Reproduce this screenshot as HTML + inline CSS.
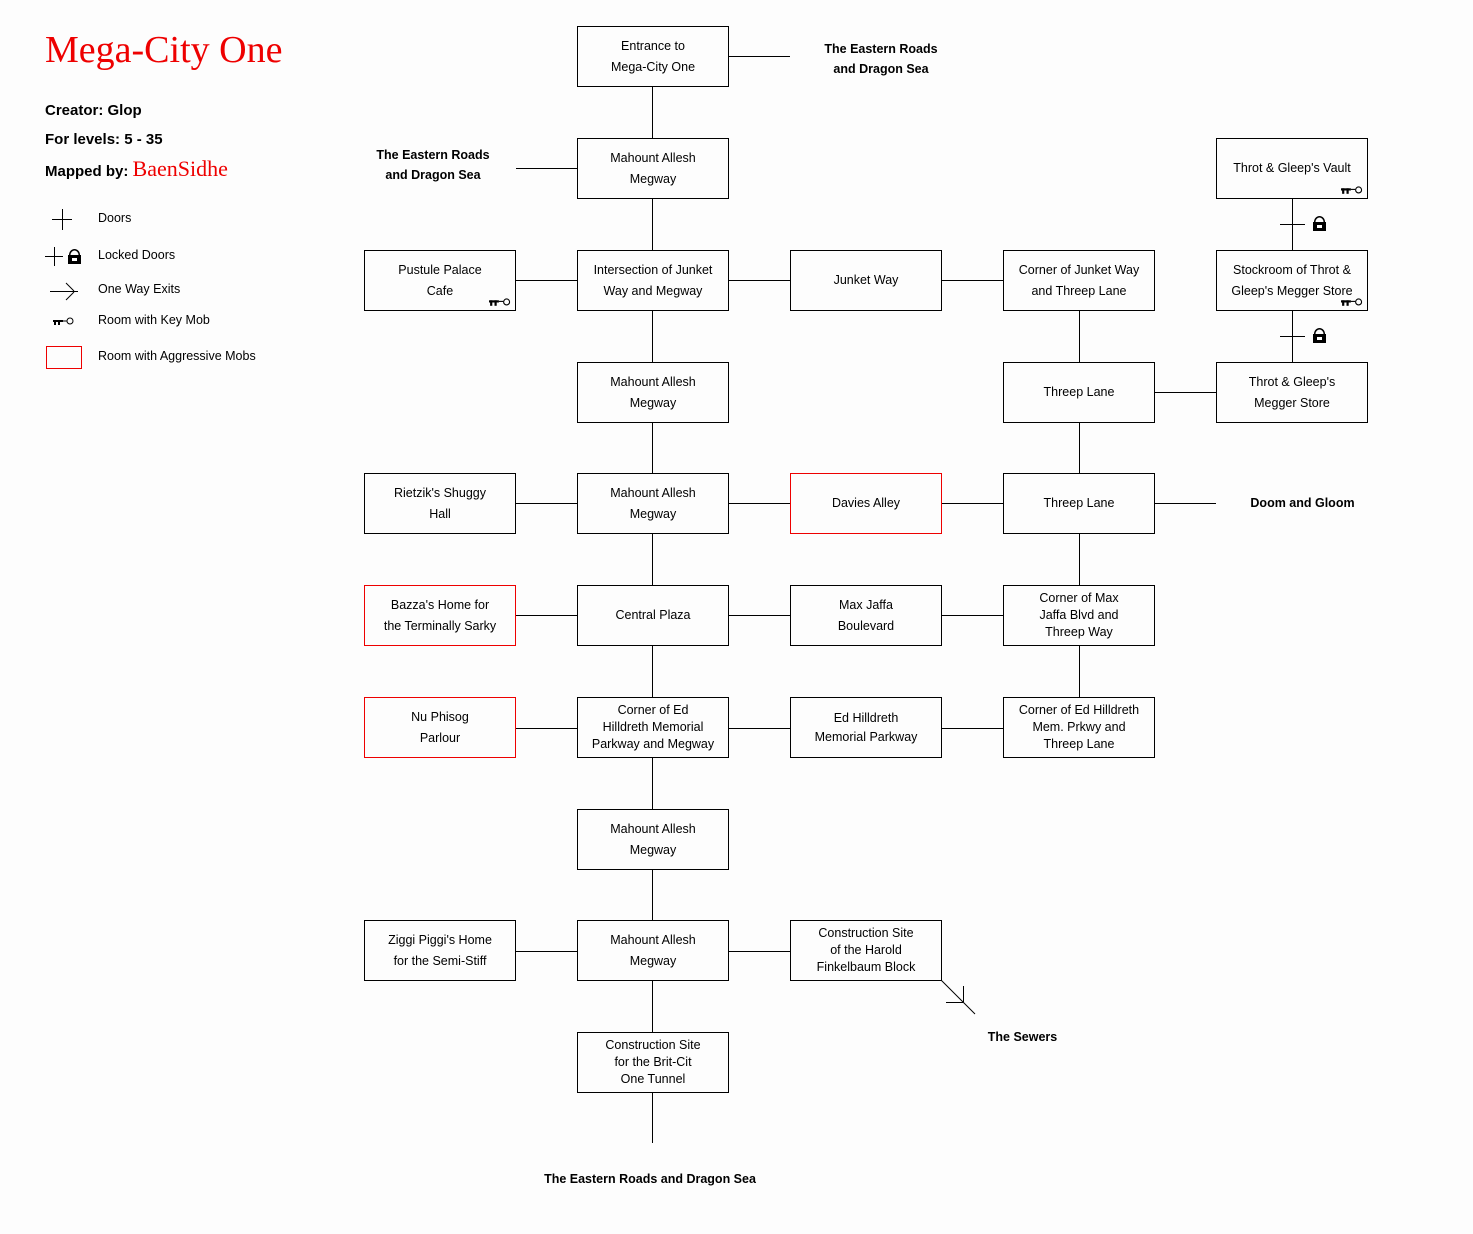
<!DOCTYPE html>
<html><head><meta charset="utf-8"><style>
body{margin:0;width:1473px;height:1234px;background:#fdfdfd;position:relative;overflow:hidden;font-family:"Liberation Sans",sans-serif;color:#000}
.b{position:absolute;width:150px;height:59px;border:1px solid #000;background:#fdfdfd;display:flex;align-items:center;justify-content:center;text-align:center;font-size:12.5px;line-height:21px;box-sizing:content-box}
.b3{line-height:17px}
.r{border-color:#e00}
.t{position:absolute;font-weight:bold;font-size:12.5px;line-height:20px;text-align:center}
.k{position:absolute;right:4px;bottom:3px;width:22px;height:9px}
.l{position:absolute;font-size:12.5px}
</style></head><body>
<svg width="1473" height="1234" style="position:absolute;left:0;top:0">
<g stroke="#000" stroke-width="1" fill="none">
<line x1="652.5" y1="86" x2="652.5" y2="1143"/>
<line x1="1079.5" y1="310" x2="1079.5" y2="697"/>
<line x1="1292.5" y1="198" x2="1292.5" y2="362"/>
<line x1="1280" y1="224.5" x2="1305" y2="224.5"/>
<line x1="1280" y1="336.5" x2="1305" y2="336.5"/>
<line x1="728" y1="56.5" x2="790" y2="56.5"/>
<line x1="516" y1="168.5" x2="577" y2="168.5"/>
<line x1="516" y1="280.5" x2="1003" y2="280.5"/>
<line x1="1154" y1="392.5" x2="1216" y2="392.5"/>
<line x1="516" y1="503.5" x2="1003" y2="503.5"/>
<line x1="1154" y1="503.5" x2="1216" y2="503.5"/>
<line x1="516" y1="615.5" x2="1003" y2="615.5"/>
<line x1="516" y1="728.5" x2="1003" y2="728.5"/>
<line x1="516" y1="951.5" x2="790" y2="951.5"/>
<line x1="941" y1="980" x2="975" y2="1014"/>
<line x1="946" y1="1002.5" x2="963" y2="1002.5"/>
<line x1="963.5" y1="986" x2="963.5" y2="1002"/>
<line x1="52" y1="219.5" x2="72" y2="219.5"/><line x1="62.5" y1="209" x2="62.5" y2="230"/>
<line x1="45" y1="256.5" x2="63" y2="256.5"/><line x1="54.5" y1="247" x2="54.5" y2="266"/>
<line x1="50" y1="291.5" x2="78" y2="291.5"/><line x1="66" y1="283" x2="74" y2="291"/><line x1="66" y1="300" x2="74" y2="292"/>
</g>
<rect x="46.5" y="346.5" width="35" height="22" fill="none" stroke="#e00"/>
<g fill="#000">
<path d="M1314 230v-8a5.5 6 0 0 1 11 0v8h-1.5v-8a4 4.5 0 0 0-8 0v8z"/><rect x="1313" y="222" width="13" height="9"/>
<path d="M1314 342v-8a5.5 6 0 0 1 11 0v8h-1.5v-8a4 4.5 0 0 0-8 0v8z"/><rect x="1313" y="334" width="13" height="9"/>
<path d="M69 263v-8a5.5 6 0 0 1 11 0v8h-1.5v-8a4 4.5 0 0 0-8 0v8z"/><rect x="68" y="255" width="13" height="9"/>
<rect x="53" y="320" width="10" height="2"/><rect x="54" y="320" width="2" height="5"/><rect x="58" y="320" width="2" height="5"/>
</g>
<line x1="63" y1="321" x2="67" y2="321" stroke="#000"/><circle cx="70" cy="321" r="3" fill="none" stroke="#000"/>
<g fill="#fff"><rect x="1317" y="225" width="5" height="3"/><rect x="1317" y="337" width="5" height="3"/><rect x="72" y="258" width="5" height="3"/></g>
</svg>
<div style="position:absolute;left:45px;top:28px;font-family:'Liberation Serif',serif;font-size:38px;color:#e00">Mega-City One</div>
<div style="position:absolute;left:45px;top:96px;font-weight:bold;font-size:15px;line-height:29px">Creator: Glop<br>For levels: 5 - 35<br>Mapped by: <span style="font-family:'Liberation Serif',serif;color:#e00;font-weight:normal;font-size:22px">BaenSidhe</span></div>
<div class="l" style="left:98px;top:211px">Doors</div>
<div class="l" style="left:98px;top:248px">Locked Doors</div>
<div class="l" style="left:98px;top:282px">One Way Exits</div>
<div class="l" style="left:98px;top:313px">Room with Key Mob</div>
<div class="l" style="left:98px;top:349px">Room with Aggressive Mobs</div>

<div class="t" style="left:810px;top:39px;width:142px">The Eastern Roads<br>and Dragon Sea</div>
<div class="t" style="left:362px;top:145px;width:142px">The Eastern Roads<br>and Dragon Sea</div>
<div class="t" style="left:1230px;top:493px;width:145px">Doom and Gloom</div>
<div class="t" style="left:975px;top:1027px;width:95px">The Sewers</div>
<div class="t" style="left:520px;top:1169px;width:260px">The Eastern Roads and Dragon Sea</div>

<div class="b" style="left:577px;top:26px">Entrance to<br>Mega-City One</div>
<div class="b" style="left:577px;top:138px">Mahount Allesh<br>Megway</div>
<div class="b" style="left:1216px;top:138px">Throt &amp; Gleep's Vault<svg class="k" viewBox="0 0 20 8"><rect x="0" y="2" width="9" height="2"/><rect x="1" y="2" width="2" height="5"/><rect x="5" y="2" width="2" height="5"/><line x1="9" y1="3" x2="13" y2="3" stroke="#000"/><circle cx="16" cy="3.5" r="2.7" fill="none" stroke="#000"/></svg></div>
<div class="b" style="left:364px;top:250px">Pustule Palace<br>Cafe<svg class="k" viewBox="0 0 20 8"><rect x="0" y="2" width="9" height="2"/><rect x="1" y="2" width="2" height="5"/><rect x="5" y="2" width="2" height="5"/><line x1="9" y1="3" x2="13" y2="3" stroke="#000"/><circle cx="16" cy="3.5" r="2.7" fill="none" stroke="#000"/></svg></div>
<div class="b" style="left:577px;top:250px">Intersection of Junket<br>Way and Megway</div>
<div class="b" style="left:790px;top:250px">Junket Way</div>
<div class="b" style="left:1003px;top:250px">Corner of Junket Way<br>and Threep Lane</div>
<div class="b" style="left:1216px;top:250px">Stockroom of Throt &amp;<br>Gleep's Megger Store<svg class="k" viewBox="0 0 20 8"><rect x="0" y="2" width="9" height="2"/><rect x="1" y="2" width="2" height="5"/><rect x="5" y="2" width="2" height="5"/><line x1="9" y1="3" x2="13" y2="3" stroke="#000"/><circle cx="16" cy="3.5" r="2.7" fill="none" stroke="#000"/></svg></div>
<div class="b" style="left:577px;top:362px">Mahount Allesh<br>Megway</div>
<div class="b" style="left:1003px;top:362px">Threep Lane</div>
<div class="b" style="left:1216px;top:362px">Throt &amp; Gleep's<br>Megger Store</div>
<div class="b" style="left:364px;top:473px">Rietzik's Shuggy<br>Hall</div>
<div class="b" style="left:577px;top:473px">Mahount Allesh<br>Megway</div>
<div class="b r" style="left:790px;top:473px">Davies Alley</div>
<div class="b" style="left:1003px;top:473px">Threep Lane</div>
<div class="b r" style="left:364px;top:585px">Bazza's Home for<br>the Terminally Sarky</div>
<div class="b" style="left:577px;top:585px">Central Plaza</div>
<div class="b" style="left:790px;top:585px">Max Jaffa<br>Boulevard</div>
<div class="b b3" style="left:1003px;top:585px">Corner of Max<br>Jaffa Blvd and<br>Threep Way</div>
<div class="b r" style="left:364px;top:697px">Nu Phisog<br>Parlour</div>
<div class="b b3" style="left:577px;top:697px">Corner of Ed<br>Hilldreth Memorial<br>Parkway and Megway</div>
<div class="b" style="left:790px;top:697px;line-height:19px">Ed Hilldreth<br>Memorial Parkway</div>
<div class="b b3" style="left:1003px;top:697px">Corner of Ed Hilldreth<br>Mem. Prkwy and<br>Threep Lane</div>
<div class="b" style="left:577px;top:809px">Mahount Allesh<br>Megway</div>
<div class="b" style="left:364px;top:920px">Ziggi Piggi's Home<br>for the Semi-Stiff</div>
<div class="b" style="left:577px;top:920px">Mahount Allesh<br>Megway</div>
<div class="b b3" style="left:790px;top:920px">Construction Site<br>of the Harold<br>Finkelbaum Block</div>
<div class="b b3" style="left:577px;top:1032px">Construction Site<br>for the Brit-Cit<br>One Tunnel</div>
</body></html>
